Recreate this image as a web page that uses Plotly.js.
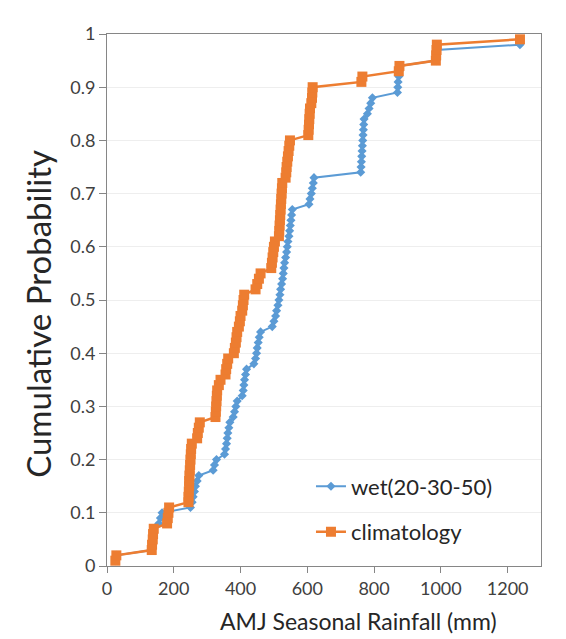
<!DOCTYPE html>
<html>
<head>
<meta charset="utf-8">
<script src="https://cdn.plot.ly/plotly-3.0.1.min.js"></script>
<style>html,body{margin:0;padding:0;background:#fff;}#chart{width:566px;height:639px;}</style>
</head>
<body>
<div id="chart"></div>
<script>
// Climatology: rainfall (mm) and cumulative probability
const climRain = [25, 28,
  134, 135, 137, 138, 140,
  180, 182, 184, 186,
  244, 244, 245, 246, 246, 247, 248,
  249, 250, 251, 252, 254,
  270, 272, 275, 278,
  325, 326, 327, 328, 329, 330, 335, 340,
  355, 357, 360, 363,
  380, 383, 386, 388, 390,
  395, 398, 400,
  405, 407, 409, 411,
  445, 450,
  455, 460,
  492, 494, 496, 498, 500, 503,
  515, 516, 517, 518, 519, 520, 521, 522, 523, 524, 525,
  535, 537, 538, 540, 542, 544, 546, 548,
  603, 604, 605, 606, 607, 608,
  612, 614, 615, 616,
  762, 765,
  874, 876,
  985, 986, 987, 988,
  1237];
const climProb = [0.01, 0.02, 0.03, 0.04, 0.05, 0.06, 0.07, 0.08, 0.09, 0.10,
  0.11, 0.12, 0.13, 0.14, 0.15, 0.16, 0.17, 0.18, 0.19, 0.20,
  0.21, 0.22, 0.23, 0.24, 0.25, 0.26, 0.27, 0.28, 0.29, 0.30,
  0.31, 0.32, 0.33, 0.34, 0.35, 0.36, 0.37, 0.38, 0.39, 0.40,
  0.41, 0.42, 0.43, 0.44, 0.45, 0.46, 0.47, 0.48, 0.49, 0.50,
  0.51, 0.52, 0.53, 0.54, 0.55, 0.56, 0.57, 0.58, 0.59, 0.60,
  0.61, 0.62, 0.63, 0.64, 0.65, 0.66, 0.67, 0.68, 0.69, 0.70,
  0.71, 0.72, 0.73, 0.74, 0.75, 0.76, 0.77, 0.78, 0.79, 0.80,
  0.81, 0.82, 0.83, 0.84, 0.85, 0.86, 0.87, 0.88, 0.89, 0.90,
  0.91, 0.92, 0.93, 0.94, 0.95, 0.96, 0.97, 0.98, 0.99];

// Wet (20-30-50) weighted distribution
const wetRain = [25, 28,
  134, 135, 137, 138, 140,
  155, 160, 165,
  250, 255, 258, 262, 265, 270, 275,
  318, 322, 328,
  352, 355, 358, 360, 362, 365, 368,
  378, 382, 386, 390,
  405, 408, 410, 412, 415, 418,
  440, 445, 448, 450, 453, 456, 460,
  495, 500, 505, 508, 512, 515,
  518, 520, 523, 526, 528, 530,
  532, 535, 538, 540, 542,
  545, 547, 549, 551, 553, 555,
  605, 608, 612,
  615, 618, 620,
  760, 761, 762, 763, 764, 765, 766, 767, 768, 769, 770,
  780, 785, 790, 795,
  870, 871, 872, 874, 875, 876,
  986, 987, 988,
  1237];
const wetProb = [0.01, 0.02, 0.03, 0.04, 0.05, 0.06, 0.07, 0.08, 0.09, 0.10,
  0.11, 0.12, 0.13, 0.14, 0.15, 0.16, 0.17, 0.18, 0.19, 0.20,
  0.21, 0.22, 0.23, 0.24, 0.25, 0.26, 0.27, 0.28, 0.29, 0.30,
  0.31, 0.32, 0.33, 0.34, 0.35, 0.36, 0.37, 0.38, 0.39, 0.40,
  0.41, 0.42, 0.43, 0.44, 0.45, 0.46, 0.47, 0.48, 0.49, 0.50,
  0.51, 0.52, 0.53, 0.54, 0.55, 0.56, 0.57, 0.58, 0.59, 0.60,
  0.61, 0.62, 0.63, 0.64, 0.65, 0.66, 0.67, 0.68, 0.69, 0.70,
  0.71, 0.72, 0.73, 0.74, 0.75, 0.76, 0.77, 0.78, 0.79, 0.80,
  0.81, 0.82, 0.83, 0.84, 0.85, 0.86, 0.87, 0.88, 0.89, 0.90,
  0.91, 0.92, 0.93, 0.94, 0.95, 0.96, 0.97, 0.98];

const seriesNames = ["wet(20-30-50)", "climatology"];
const xTitle = "AMJ Seasonal Rainfall (mm)";
const yTitle = "Cumulative Probability";

const FONT = "Lato, Open Sans, Noto Sans, sans-serif";

const traces = [
  {
    x: wetRain, y: wetProb, name: seriesNames[0], type: "scatter", mode: "lines+markers",
    line: {color: "#5B9BD5", width: 2},
    marker: {symbol: "diamond", size: 7, color: "#5B9BD5"},
    legendgroup: "a"
  },
  {
    x: climRain, y: climProb, name: seriesNames[1], type: "scatter", mode: "lines+markers",
    line: {color: "#ED7D31", width: 2.5},
    marker: {symbol: "square", size: 10, color: "#ED7D31"},
    legendgroup: "b"
  }
];

const layout = {
  width: 566, height: 639,
  margin: {l: 107, r: 25, t: 34, b: 73},
  paper_bgcolor: "#fff", plot_bgcolor: "#fff",
  font: {family: FONT, color: "#404040"},
  showlegend: true,
  legend: {
    x: 0.47, y: 0.189, xanchor: "left", yanchor: "top",
    bgcolor: "rgba(0,0,0,0)",
    font: {size: 22, color: "#262626", family: FONT},
    traceorder: "grouped", tracegroupgap: 14
  },
  xaxis: {
    range: [0, 1300], dtick: 200, tick0: 0,
    showgrid: false, zeroline: false,
    showline: true, linecolor: "#868686", linewidth: 1, mirror: true,
    ticks: "outside", ticklen: 6, tickcolor: "#868686",
    tickfont: {size: 18, color: "#404040"}
  },
  yaxis: {
    range: [0, 1], dtick: 0.1, tick0: 0,
    showgrid: true, gridcolor: "#EEEEEE", zeroline: false,
    showline: true, linecolor: "#868686", linewidth: 1, mirror: true,
    ticks: "outside", ticklen: 7, tickcolor: "#868686",
    tickfont: {size: 18, color: "#404040"}
  },
  annotations: [
    {
      text: xTitle, xref: "paper", yref: "paper", x: 0.58, y: -0.104,
      xanchor: "center", yanchor: "middle", showarrow: false,
      font: {size: 23, color: "#262626", family: FONT}
    },
    {
      text: yTitle, xref: "paper", yref: "paper", x: -0.159, y: 0.474,
      xanchor: "center", yanchor: "middle", showarrow: false, textangle: -90,
      font: {size: 33, color: "#262626", family: FONT}
    }
  ]
};

Plotly.newPlot("chart", traces, layout, {displayModeBar: false, staticPlot: true});
</script>
</body>
</html>
